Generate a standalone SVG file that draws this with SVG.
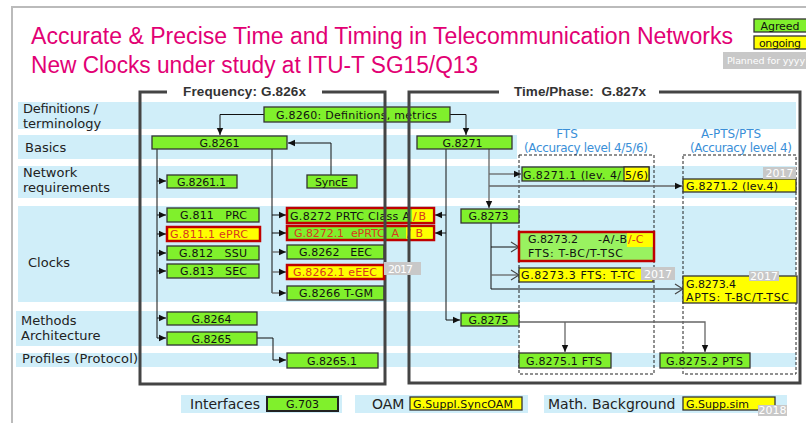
<svg xmlns="http://www.w3.org/2000/svg" width="806" height="423" viewBox="0 0 806 423">
<style>
.band{fill:#d0eef9}
.lbl{font-family:"DejaVu Sans",Verdana,sans-serif;font-size:13px;fill:#222}
.n{font-family:"DejaVu Sans",Verdana,sans-serif;font-size:11px;fill:#111}
.c{text-anchor:middle}
.g{fill:#80f02c;stroke:#333;stroke-width:1.3}
.g2{fill:#99f260;stroke:#c00000;stroke-width:2.5}
.y{fill:#ffff00;stroke:#333;stroke-width:1.3}
.gr{fill:#80f02c;stroke:#c00000;stroke-width:2.5}
.yr{fill:#ffff00;stroke:#c00000;stroke-width:2.5}
.red{fill:#d9381e}
.tag{fill:#c8c8c8}
.tagt{font-family:"DejaVu Sans",Verdana,sans-serif;font-size:11px;fill:#fff;text-anchor:middle}
.frame{fill:none;stroke:#444;stroke-width:3}
.hd{font-family:"Liberation Sans",Arial,sans-serif;font-size:13.5px;font-weight:bold;fill:#333;text-anchor:middle}
.blue{font-family:"DejaVu Sans",Verdana,sans-serif;font-size:12px;fill:#3a8fd8}
.dash{fill:none;stroke:#222;stroke-width:1;stroke-dasharray:3,2}
.ln{fill:none;stroke:#111;stroke-width:1}
.lg{fill:none;stroke:#666;stroke-width:1.3}
.ttl{font-family:"Liberation Sans",Arial,sans-serif;font-size:23px;fill:#e20074}
.leg{font-family:"DejaVu Sans",Verdana,sans-serif;font-size:14px;fill:#222}
</style>
<defs>
<marker id="a" markerUnits="userSpaceOnUse" markerWidth="8" markerHeight="8" refX="7" refY="4" orient="auto"><path d="M0,0.8 L7,4 L0,7.2 z" fill="#111"/></marker>
<marker id="o" markerUnits="userSpaceOnUse" markerWidth="10" markerHeight="12" refX="9" refY="6" orient="auto"><path d="M1,1 L9,6 L1,11" fill="none" stroke="#444" stroke-width="1.2"/></marker>
</defs>
<rect width="806" height="423" fill="#fff"/>
<path d="M12,423 V7 H806" fill="none" stroke="#bbb" stroke-width="2"/>
<text class="ttl" x="31" y="44" textLength="702" lengthAdjust="spacingAndGlyphs">Accurate &amp; Precise Time and Timing in Telecommunication Networks</text>
<text class="ttl" x="31" y="73" textLength="447" lengthAdjust="spacingAndGlyphs">New Clocks under study at ITU-T SG15/Q13</text>
<g id="legend">
<rect class="g" x="754" y="19" width="54" height="13"/><text class="n c" x="780" y="29.5" textLength="39">Agreed</text>
<rect class="y" x="754" y="36" width="54" height="13"/><text class="n c" x="780" y="46.5" textLength="42">ongoing</text>
<rect class="tag" x="723" y="52" width="83" height="17"/><text x="727" y="64" font-family="DejaVu Sans,sans-serif" font-size="9.5" fill="#fff" textLength="78">Planned for yyyy</text>
</g>
<g id="bands">
<rect class="band" x="18" y="102" width="778" height="27"/>
<rect class="band" x="18" y="135" width="499" height="24"/>
<rect class="band" x="18" y="166" width="778" height="32"/>
<rect class="band" x="18" y="206" width="778" height="96"/>
<rect class="band" x="16" y="311" width="503" height="35"/>
<rect class="band" x="16" y="353" width="780" height="14"/>
<rect class="band" x="181" y="395" width="161" height="18"/>
<rect class="band" x="355" y="395" width="173" height="18"/>
<rect class="band" x="544" y="395" width="243" height="18"/>
</g>
<g id="rowlabels">
<text class="lbl" x="23" y="113" textLength="75">Definitions /</text>
<text class="lbl" x="23" y="128">terminology</text>
<text class="lbl" x="25" y="152">Basics</text>
<text class="lbl" x="23" y="177">Network</text>
<text class="lbl" x="23" y="192">requirements</text>
<text class="lbl" x="28" y="267">Clocks</text>
<text class="lbl" x="21" y="325">Methods</text>
<text class="lbl" x="21" y="340">Architecture</text>
<text class="lbl" x="22" y="363" textLength="116">Profiles (Protocol)</text>
</g>
<g id="tslabels">
<text class="blue c" x="567" y="138">FTS</text>
<text class="blue c" x="586" y="152" textLength="124">(Accuracy level 4/5/6)</text>
<text class="blue c" x="731" y="138" textLength="60">A-PTS/PTS</text>
<text class="blue c" x="741" y="152" textLength="102">(Accuracy level 4)</text>
<rect class="dash" x="519" y="155" width="135" height="219"/>
<rect class="dash" x="683" y="155" width="113" height="219"/>
</g>
<g id="connectors">
<path class="ln" d="M264,114.5 H220 V135" marker-end="url(#a)"/>
<path class="ln" d="M331,175 V143 H288" marker-end="url(#a)"/>
<path class="ln" d="M157,149 V338"/>
<path class="ln" d="M157,181 H166" marker-end="url(#a)"/>
<path class="ln" d="M157,215 H166" marker-end="url(#a)"/>
<path class="ln" d="M157,234 H166" marker-end="url(#a)"/>
<path class="ln" d="M157,253 H166" marker-end="url(#a)"/>
<path class="ln" d="M157,271 H166" marker-end="url(#a)"/>
<path class="ln" d="M157,318 H166" marker-end="url(#a)"/>
<path class="ln" d="M157,338 H166" marker-end="url(#a)"/>
<path class="ln" d="M272,149 V293"/>
<path class="ln" d="M272,215 H286" marker-end="url(#a)"/>
<path class="ln" d="M272,233 H286" marker-end="url(#a)"/>
<path class="lg" d="M272,252 H286" marker-end="url(#a)"/>
<path class="lg" d="M272,272 H286" marker-end="url(#a)"/>
<path class="lg" d="M272,293 H286" marker-end="url(#a)"/>
<path class="ln" d="M257,338 H273 V360 H286" marker-end="url(#a)"/>
<path class="ln" d="M450,114.5 H466 V135" marker-end="url(#a)"/>
<path class="ln" d="M446,149 V320 H460" marker-end="url(#a)"/>
<path class="ln" d="M446,215 H435" marker-end="url(#a)"/>
<path class="ln" d="M446,233 H435" marker-end="url(#a)"/>
<path class="lg" d="M489,149 V208" marker-end="url(#a)"/>
<path class="lg" d="M489,174 H521" marker-end="url(#a)"/>
<path class="lg" d="M489,186 H682" marker-end="url(#a)"/>
<path class="ln" d="M491,223 V289 H683" marker-end="url(#o)"/>
<path class="ln" d="M491,247 H519" marker-end="url(#o)"/>
<path class="lg" d="M491,275 H519" marker-end="url(#o)"/>
<path class="lg" d="M519,322 H705 V352" marker-end="url(#a)"/>
<path class="lg" d="M565,322 V352" marker-end="url(#a)"/>
</g>
<g id="G8260"><rect class="g" x="264" y="107" width="186" height="15"/><text class="n c" x="356.5" y="118.5" textLength="161">G.8260: Definitions, metrics</text></g>
<g id="G8261"><rect class="g" x="152" y="136" width="135" height="13"/><text class="n c" x="219.5" y="146.5">G.8261</text></g>
<g id="G8261_1"><rect class="g" x="167" y="175" width="70" height="13"/><text class="n c" x="201.5" y="185.5" textLength="49">G.8261.1</text></g>
<g id="SyncE"><rect class="g" x="307" y="175" width="50" height="13"/><text class="n c" x="331.5" y="185.5" textLength="33">SyncE</text></g>
<g id="G811"><rect class="g" x="167" y="208" width="92" height="14"/><text class="n c" x="213.5" y="219" xml:space="preserve" textLength="67">G.811   PRC</text></g>
<g id="G811_1"><rect class="yr" x="167" y="227" width="93" height="14"/><text class="n c red" x="209" y="238" textLength="78">G.811.1 ePRC</text></g>
<g id="G812"><rect class="g" x="167" y="246" width="92" height="14"/><text class="n c" x="213" y="257" xml:space="preserve" textLength="68">G.812   SSU</text></g>
<g id="G813"><rect class="g" x="167" y="264" width="92" height="14"/><text class="n c" x="213.5" y="275" xml:space="preserve" textLength="67">G.813   SEC</text></g>
<g id="G8264"><rect class="g" x="167" y="312" width="90" height="13"/><text class="n c" x="211.5" y="322.5">G.8264</text></g>
<g id="G8265"><rect class="g" x="167" y="332" width="90" height="13"/><text class="n c" x="211.5" y="342.5">G.8265</text></g>
<g id="G8265_1"><rect class="g" x="287" y="353" width="91" height="15"/><text class="n c" x="332" y="364.5" textLength="50">G.8265.1</text></g>
<g id="G8272"><rect class="gr" x="287" y="208" width="147" height="15"/><rect x="412" y="209.3" width="20.8" height="12.4" fill="#ffff00"/><text class="n" x="290" y="219.5" textLength="120">G.8272 PRTC Class A</text><text class="n red" x="413" y="219.5" textLength="13">/B</text></g>
<g id="G8272_1"><rect class="gr" x="287" y="226" width="147" height="14"/><rect x="406" y="227.3" width="26.8" height="11.4" fill="#ffff00"/><text class="n red" x="294" y="237" xml:space="preserve" textLength="105">G.8272.1  ePRTC  A</text><text class="n red" x="407" y="237" xml:space="preserve" textLength="16">/ B</text></g>
<g id="G8262"><rect class="g" x="287" y="245" width="97" height="14"/><text class="n c" x="335.5" y="256" xml:space="preserve" textLength="73">G.8262   EEC</text></g>
<g id="G8266"><rect class="g" x="287" y="286" width="97" height="14"/><text class="n c" x="336" y="297" textLength="74">G.8266 T-GM</text></g>
<g id="G8271"><rect class="g" x="417" y="136" width="95" height="13"/><text class="n c" x="462.5" y="146.5">G.8271</text></g>
<g id="G8271_1"><rect class="g" x="522" y="167" width="127" height="14"/><rect class="y" x="624" y="167" width="25" height="14"/><text class="n" x="523" y="178.5" textLength="98">G.8271.1 (lev. 4/</text><text class="n" x="625" y="178.5" textLength="23">5/6)</text></g>
<g id="G8271_2"><rect class="y" x="683" y="179" width="113" height="13"/><text class="n" x="686" y="189.5" textLength="92">G.8271.2 (lev.4)</text><rect class="tag" x="763" y="167" width="33" height="12"/><text class="tagt" x="779.5" y="177">2017</text></g>
<g id="G8273"><rect class="g" x="461" y="209" width="58" height="14"/><text class="n c" x="488.5" y="220">G.8273</text></g>
<g id="G8273_2"><rect class="g2" x="519" y="232" width="135" height="29"/><rect x="627" y="233.3" width="25.7" height="13.7" fill="#ffff00"/><text class="n" x="528" y="243" textLength="50">G.8273.2</text><text class="n" x="598" y="243" textLength="29">-A/-B</text><text class="n red" x="628" y="243">/-C</text><text class="n" x="528" y="256.5" textLength="95">FTS: T-BC/T-TSC</text></g>
<g id="G8273_3"><rect class="y" x="519" y="268" width="134" height="14"/><text class="n" x="521" y="279" textLength="114">G.8273.3 FTS: T-TC</text><rect class="tag" x="641" y="267" width="34" height="13"/><text class="tagt" x="658" y="277.5">2017</text></g>
<g id="G8273_4"><rect class="y" x="683" y="276" width="114" height="27"/><text class="n" x="686" y="288" textLength="50">G.8273.4</text><text class="n" x="686" y="300.5" textLength="103">APTS: T-BC/T-TSC</text><rect class="tag" x="749" y="271" width="30" height="10"/><text class="tagt" x="764" y="279.5" font-size="9">2017</text></g>
<g id="G8275"><rect class="g" x="461" y="313" width="58" height="13"/><text class="n c" x="488.5" y="323.5">G.8275</text></g>
<g id="G8275_1"><rect class="g" x="519" y="353" width="92" height="15"/><text class="n c" x="564" y="364.5" textLength="76">G.8275.1 FTS</text></g>
<g id="G8275_2"><rect class="g" x="660" y="353" width="90" height="15"/><text class="n c" x="704.5" y="364.5" textLength="77">G.8275.2 PTS</text></g>
<g id="frames">
<path class="frame" d="M167,92 H140 V384 H385 V92 H322"/>
<text class="hd" x="244.5" y="96" textLength="123">Frequency: G.826x</text>
<path class="frame" d="M499,92 H409 V383 H800 V92 H659"/>
<text class="hd" x="580" y="96" xml:space="preserve" textLength="132">Time/Phase:  G.827x</text>
</g>
<g id="G8262_1"><rect class="yr" x="287" y="265" width="97" height="14"/><text class="n c red" x="335" y="276" textLength="84">G.8262.1 eEEC</text><rect class="tag" x="384" y="262" width="37" height="13"/><text class="tagt" x="400.5" y="272.5" textLength="25">2017</text></g>
<g id="bottomlegend">
<text class="leg" x="190" y="409">Interfaces</text>
<g id="G703"><rect x="267" y="397" width="71" height="14" fill="#80f02c" stroke="#222" stroke-width="2"/><text class="n c" x="302.5" y="408">G.703</text></g>
<text class="leg" x="372" y="409">OAM</text>
<g id="SyncOAM"><rect class="y" x="410" y="397" width="112" height="13"/><text class="n" x="413" y="407.5" textLength="100">G.Suppl.SyncOAM</text></g>
<text class="leg" x="548" y="409">Math. Background</text>
<g id="Suppsim"><rect class="y" x="683" y="397" width="92" height="13"/><text class="n" x="686" y="407.5" textLength="63">G.Supp.sim</text><rect class="tag" x="758" y="405" width="29" height="11"/><text class="tagt" x="772.5" y="414" font-size="9">2018</text></g>
</g>
</svg>
